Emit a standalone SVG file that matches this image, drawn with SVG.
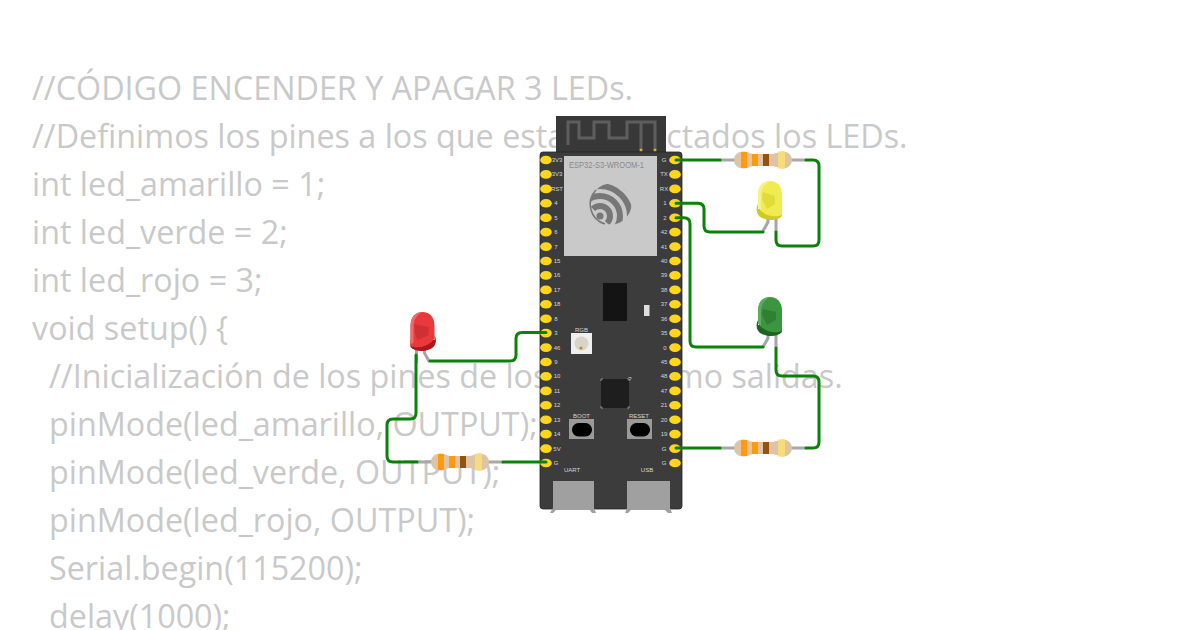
<svg xmlns="http://www.w3.org/2000/svg" width="1200" height="630" viewBox="0 0 1200 630">
<style>
.code{font-family:"Open Sans","Liberation Sans",sans-serif;font-size:32.300px;fill:#c9c9c9}
.pin{fill:#ffd61a}
.pl{font-family:"Liberation Sans",Arial,sans-serif;font-size:6px;fill:#d4d4d4;text-anchor:middle}
.wire{fill:none;stroke:#0a820a;stroke-width:3;stroke-linecap:round;stroke-linejoin:round}
.lead{fill:none;stroke:#a6a6a6;stroke-width:3}
</style>
<defs>
<clipPath id="logoClip"><circle cx="611" cy="204" r="20.500"/></clipPath>
<g id="res">
<path d="M-43 0H-28M28 0H43" stroke="#a8a8a8" stroke-width="3" fill="none"/>
<path d="M-29 0C-29-6-24-8.500-19-8.500C-15-8.500-13-6-10-6H10C13-6 15-8.500 19-8.500C24-8.500 29-6 29 0C29 6 24 8.500 19 8.500C15 8.500 13 6 10 6H-10C-13 6-15 8.500-19 8.500C-24 8.500-29 6-29 0Z" fill="#dcc4a4"/>
<rect x="-22" y="-8" width="6" height="16" fill="#ff9a0d"/>
<rect x="-11" y="-6" width="6" height="12" fill="#ff9a0d"/>
<rect x="0" y="-6" width="6" height="12" fill="#96500f"/>
<rect x="15" y="-8.400" width="7" height="16.800" fill="#f5de7a"/>
</g>
<g id="leads">
<path class="lead" d="M6 36V51M-2 36V41L-7 50"/>
</g>
</defs>
<g id="code">
<text class="code" x="32" y="100">//CÓDIGO ENCENDER Y APAGAR 3 LEDs.</text>
<text class="code" x="32" y="148">//Definimos los pines a los que estan conectados los LEDs.</text>
<text class="code" x="32" y="196">int led_amarillo = 1;</text>
<text class="code" x="32" y="244">int led_verde = 2;</text>
<text class="code" x="32" y="292">int led_rojo = 3;</text>
<text class="code" x="32" y="340">void setup() {</text>
<text class="code" x="49" y="388">//Inicialización de los pines de los LEDs como salidas.</text>
<text class="code" x="49" y="436">pinMode(led_amarillo, OUTPUT);</text>
<text class="code" x="49" y="484">pinMode(led_verde, OUTPUT);</text>
<text class="code" x="49" y="532">pinMode(led_rojo, OUTPUT);</text>
<text class="code" x="49" y="580">Serial.begin(115200);</text>
<text class="code" x="49" y="628">delay(1000);</text>
</g>
<g id="board">
<rect x="556" y="116" width="110" height="37" fill="#383838"/>
<path d="M568 145V122H579V138H594V122H609V138H627V122H655V150M641 122V150" fill="none" stroke="#5e5e5e" stroke-width="3"/>
<circle cx="641" cy="150" r="1.500" fill="#d8b020"/><circle cx="655" cy="150" r="1.500" fill="#d8b020"/>
<rect x="540" y="152" width="142" height="357" rx="3" fill="#3c3c3c" stroke="#242424" stroke-width="0.800"/>
<rect x="564" y="156" width="93" height="100" fill="#c9c9c9"/>
<text x="569" y="168" font-family="'Liberation Sans',Arial,sans-serif" font-size="9" fill="#8a8a8a" textLength="75" lengthAdjust="spacingAndGlyphs">ESP32-S3-WROOM-1</text>
<g id="logo" fill="none" stroke="#777777">
<path d="M596 190A20.500 20.500 0 0 0 605 224" stroke-width="1.500"/>
<g clip-path="url(#logoClip)" stroke-width="6">
<path d="M590 216A10 10 0 0 1 610 216" transform="rotate(45 600 216)"/>
<path d="M580 216A20 20 0 0 1 620 216" transform="rotate(45 600 216)"/>
<path d="M570 216A30 30 0 0 1 630 216" transform="rotate(45 600 216)"/>
<path d="M560 216A40 40 0 0 1 640 216" transform="rotate(45 600 216)"/>
</g>
<circle cx="600" cy="216" r="3.500" fill="#777777" stroke="none"/>
</g>
<rect x="603" y="283" width="24" height="38" fill="#141414"/>
<rect x="644" y="305" width="5.500" height="11" fill="#dedede"/>
<rect x="571" y="333" width="21" height="21" fill="#efefef"/>
<circle cx="581.500" cy="343.500" r="7" fill="#d9d3c8"/>
<circle cx="581" cy="348" r="1.500" fill="#b88a2a"/>
<rect x="601" y="379" width="28" height="29" fill="#1e1e1e"/>
<path d="M601 381V379H603M627 379H629V381M601 406V408H603M627 408H629V406" fill="none" stroke="#cfcfcf" stroke-width="0.600"/>
<rect x="569" y="419" width="25" height="20" fill="#9a9a9a"/>
<rect x="572" y="423" width="20" height="13.500" rx="6.500" fill="#000"/>
<rect x="627" y="419" width="25" height="20" fill="#9a9a9a"/>
<rect x="630" y="423" width="20" height="13.500" rx="6.500" fill="#000"/>
<path d="M550 513L553 508V481H594V508L596 513H592L590 510H556L553 513Z" fill="#a0a0a0"/>
<path d="M625 513L627 508V481H670V508L672 513H668L665 510H631L628 513Z" fill="#a0a0a0"/>
<text class="pl" x="581.500" y="332">RGB</text>
<text class="pl" x="581.500" y="418">BOOT</text>
<text class="pl" x="639" y="418">RESET</text>
<text class="pl" x="572" y="472">UART</text>
<text class="pl" x="647" y="472">USB</text>
<text class="pl" x="630" y="381">?</text>
<g id="pins-left">
<ellipse class="pin" cx="546" cy="160" rx="5.800" ry="4.300"/><ellipse class="pin" cx="546" cy="174.400" rx="5.800" ry="4.300"/><ellipse class="pin" cx="546" cy="188.900" rx="5.800" ry="4.300"/><ellipse class="pin" cx="546" cy="203.300" rx="5.800" ry="4.300"/><ellipse class="pin" cx="546" cy="217.700" rx="5.800" ry="4.300"/><ellipse class="pin" cx="546" cy="232.100" rx="5.800" ry="4.300"/><ellipse class="pin" cx="546" cy="246.600" rx="5.800" ry="4.300"/><ellipse class="pin" cx="546" cy="261" rx="5.800" ry="4.300"/><ellipse class="pin" cx="546" cy="275.400" rx="5.800" ry="4.300"/><ellipse class="pin" cx="546" cy="289.900" rx="5.800" ry="4.300"/><ellipse class="pin" cx="546" cy="304.300" rx="5.800" ry="4.300"/><ellipse class="pin" cx="546" cy="318.700" rx="5.800" ry="4.300"/><ellipse class="pin" cx="546" cy="333.100" rx="5.800" ry="4.300"/><ellipse class="pin" cx="546" cy="347.600" rx="5.800" ry="4.300"/><ellipse class="pin" cx="546" cy="362" rx="5.800" ry="4.300"/><ellipse class="pin" cx="546" cy="376.400" rx="5.800" ry="4.300"/><ellipse class="pin" cx="546" cy="390.900" rx="5.800" ry="4.300"/><ellipse class="pin" cx="546" cy="405.300" rx="5.800" ry="4.300"/><ellipse class="pin" cx="546" cy="419.700" rx="5.800" ry="4.300"/><ellipse class="pin" cx="546" cy="434.100" rx="5.800" ry="4.300"/><ellipse class="pin" cx="546" cy="448.600" rx="5.800" ry="4.300"/><ellipse class="pin" cx="546" cy="463" rx="5.800" ry="4.300"/>
</g>
<g id="pins-right">
<ellipse class="pin" cx="675" cy="160" rx="5.800" ry="4.300"/><ellipse class="pin" cx="675" cy="174.400" rx="5.800" ry="4.300"/><ellipse class="pin" cx="675" cy="188.900" rx="5.800" ry="4.300"/><ellipse class="pin" cx="675" cy="203.300" rx="5.800" ry="4.300"/><ellipse class="pin" cx="675" cy="217.700" rx="5.800" ry="4.300"/><ellipse class="pin" cx="675" cy="232.100" rx="5.800" ry="4.300"/><ellipse class="pin" cx="675" cy="246.600" rx="5.800" ry="4.300"/><ellipse class="pin" cx="675" cy="261" rx="5.800" ry="4.300"/><ellipse class="pin" cx="675" cy="275.400" rx="5.800" ry="4.300"/><ellipse class="pin" cx="675" cy="289.900" rx="5.800" ry="4.300"/><ellipse class="pin" cx="675" cy="304.300" rx="5.800" ry="4.300"/><ellipse class="pin" cx="675" cy="318.700" rx="5.800" ry="4.300"/><ellipse class="pin" cx="675" cy="333.100" rx="5.800" ry="4.300"/><ellipse class="pin" cx="675" cy="347.600" rx="5.800" ry="4.300"/><ellipse class="pin" cx="675" cy="362" rx="5.800" ry="4.300"/><ellipse class="pin" cx="675" cy="376.400" rx="5.800" ry="4.300"/><ellipse class="pin" cx="675" cy="390.900" rx="5.800" ry="4.300"/><ellipse class="pin" cx="675" cy="405.300" rx="5.800" ry="4.300"/><ellipse class="pin" cx="675" cy="419.700" rx="5.800" ry="4.300"/><ellipse class="pin" cx="675" cy="434.100" rx="5.800" ry="4.300"/><ellipse class="pin" cx="675" cy="448.600" rx="5.800" ry="4.300"/><ellipse class="pin" cx="675" cy="463" rx="5.800" ry="4.300"/>
</g>
<g id="labels-left">
<text class="pl" x="557" y="162">3V3</text><text class="pl" x="557" y="176.400">3V3</text><text class="pl" x="557" y="190.900">RST</text><text class="pl" x="556" y="205.300">4</text><text class="pl" x="556" y="219.700">5</text><text class="pl" x="556" y="234.100">6</text><text class="pl" x="556" y="248.600">7</text><text class="pl" x="557" y="263">15</text><text class="pl" x="557" y="277.400">16</text><text class="pl" x="557" y="291.900">17</text><text class="pl" x="557" y="306.300">18</text><text class="pl" x="556" y="320.700">8</text><text class="pl" x="556" y="335.100">3</text><text class="pl" x="557" y="349.600">46</text><text class="pl" x="556" y="364">9</text><text class="pl" x="557" y="378.400">10</text><text class="pl" x="557" y="392.900">11</text><text class="pl" x="557" y="407.300">12</text><text class="pl" x="557" y="421.700">13</text><text class="pl" x="557" y="436.100">14</text><text class="pl" x="557" y="450.600">5V</text><text class="pl" x="556" y="465">G</text>
</g>
<g id="labels-right">
<text class="pl" x="664" y="162">G</text><text class="pl" x="664" y="176.400">TX</text><text class="pl" x="664" y="190.900">RX</text><text class="pl" x="665" y="205.300">1</text><text class="pl" x="665" y="219.700">2</text><text class="pl" x="664" y="234.100">42</text><text class="pl" x="664" y="248.600">41</text><text class="pl" x="664" y="263">40</text><text class="pl" x="664" y="277.400">39</text><text class="pl" x="664" y="291.900">38</text><text class="pl" x="664" y="306.300">37</text><text class="pl" x="664" y="320.700">36</text><text class="pl" x="664" y="335.100">35</text><text class="pl" x="665" y="349.600">0</text><text class="pl" x="664" y="364">45</text><text class="pl" x="664" y="378.400">48</text><text class="pl" x="664" y="392.900">47</text><text class="pl" x="664" y="407.300">21</text><text class="pl" x="664" y="421.700">20</text><text class="pl" x="664" y="436.100">19</text><text class="pl" x="664" y="450.600">G</text><text class="pl" x="664" y="465">G</text>
</g>
</g>
<g id="r1"><use href="#res" x="763" y="160"/></g>
<g id="r2"><use href="#res" x="763" y="448"/></g>
<g id="r3"><use href="#res" x="460" y="462"/></g>
<g id="led-yellow" transform="translate(770 181)">
<use href="#leads"/>
<path d="M-12 23C-15 29-13 35-8 37C-2 40 8 40 12 35V28H-12Z" fill="#cfca28"/>
<path d="M-12 14C-12 4-6 0 0 0C6 0 12 4 12 14V34C5 37-7 35-12 26Z" fill="#f0ec50"/>
<path d="M-12 14C-12 4-6 0 0 0C-6 3-9 8-9 14V29L-12 26Z" fill="#f6f288"/>
<path d="M-7 11L5 15V23L-3 28L-8 18Z" fill="#e0dc3c"/>
</g>
<g id="led-green" transform="translate(770 297)">
<use href="#leads"/>
<path d="M-12 23C-15 29-13 35-8 37C-2 40 8 40 12 35V28H-12Z" fill="#1c641f"/>
<path d="M-12 14C-12 4-6 0 0 0C6 0 12 4 12 14V34C5 37-7 35-12 26Z" fill="#3c963f"/>
<path d="M-12 14C-12 4-6 0 0 0C-6 3-9 8-9 14V29L-12 26Z" fill="#5cae5e"/>
<path d="M-7 12L6 15V23L-3 28L-8 18Z" fill="#2f8033"/>
</g>
<g id="led-red" transform="translate(422.500 312) scale(-1 1)">
<use href="#leads"/>
<path d="M-12 23C-15 29-13 35-8 37C-2 40 8 40 12 35V28H-12Z" fill="#b0141c"/>
<path d="M-12 14C-12 4-6 0 0 0C6 0 12 4 12 14V34C5 37-7 35-12 26Z" fill="#e83a3d"/>
<path d="M12 14C12 4 6 0 0 0C6 3 9 8 9 14V31L12 32Z" fill="#f06a6c"/>
<path d="M8 12L-6 15V23L5 28L8 20Z" fill="#d03033"/>
</g>
<g id="connectors">
<path class="wire" d="M676 160H720M806 160H813Q819 160 819 166V240Q819 246 813 246H782Q776 246 776 240V232"/>
<path class="wire" d="M676 203.300H698Q704 203.300 704 209.300V226Q704 232 710 232H763"/>
<path class="wire" d="M676 217.700H684Q690 217.700 690 223.700V341Q690 347 696 347H763"/>
<path class="wire" d="M776 348V370Q776 376 782 376H813Q819 376 819 382V442Q819 448 813 448H806"/>
<path class="wire" d="M676 448H720"/>
<path class="wire" d="M546 332.500H522Q516 332.500 516 338.500V355Q516 361 510 361H430"/>
<path class="wire" d="M416 355V413Q416 419 410 419H393Q387 419 387 425V456Q387 462 393 462H417"/>
<path class="wire" d="M503 462H546"/>
</g>
</svg>
